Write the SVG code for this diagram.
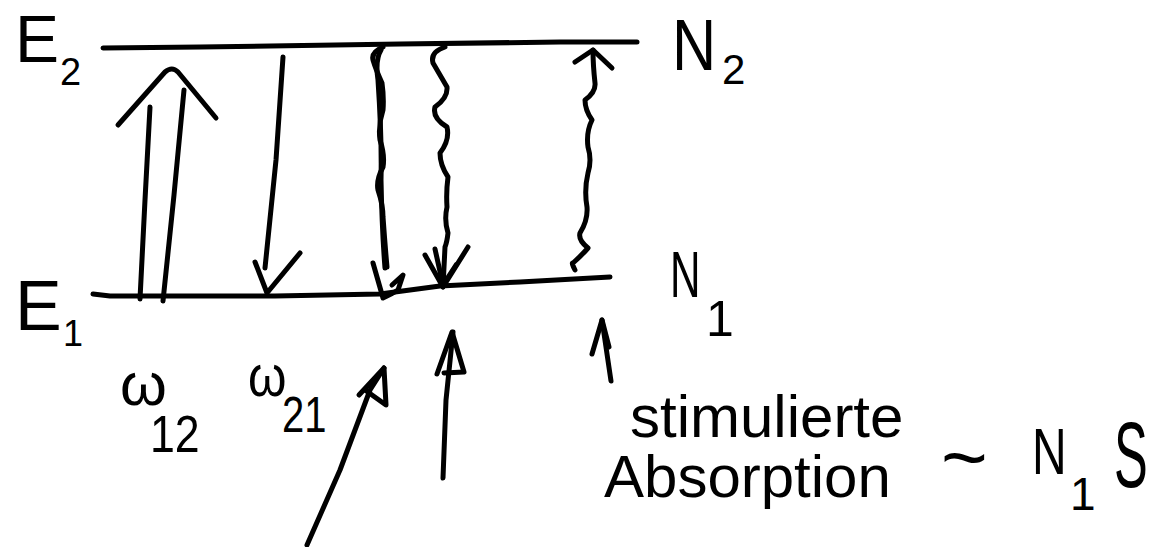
<svg xmlns="http://www.w3.org/2000/svg" width="1155" height="547" viewBox="0 0 1155 547">
<style>
.s{fill:none;stroke:#000;stroke-width:5;stroke-linecap:round;stroke-linejoin:round}
.t{font-family:"Liberation Sans",Arial,sans-serif;fill:#000}
</style>
<rect width="1155" height="547" fill="#fff"/>
<g id="level-E2">
<path class="s" d="M103,48 L200,47 L400,44 L560,42 L637,42"/>
<text class="t" x="15" y="62" font-size="66">E</text>
<text class="t" x="60" y="85" font-size="38">2</text>
<text class="t" transform="translate(672,70) scale(0.85,1)" font-size="72">N</text>
<text class="t" x="722" y="84" font-size="42">2</text>
</g>
<g id="level-E1">
<path class="s" d="M93,294 L110,296 L275,296 L380,294 L440,286 L520,282 L610,277"/>
<text class="t" x="15" y="330" font-size="70">E</text>
<text class="t" x="63" y="346" font-size="36">1</text>
<text class="t" transform="translate(670,297) scale(0.65,1)" font-size="65">N</text>
<text class="t" x="706" y="336" font-size="50">1</text>
</g>
<g id="label-w12">
<text class="t" x="120" y="405" font-size="60">ω</text>
<text class="t" transform="translate(150,452) scale(0.86,1)" font-size="52">12</text>
</g>
<g id="label-w21">
<text class="t" transform="translate(248,396) scale(0.85,1)" font-size="58">ω</text>
<text class="t" transform="translate(282,432) scale(0.8,1)" font-size="50">21</text>
</g>
<g id="label-absorption">
<text class="t" x="630" y="437" font-size="60">stimulierte</text>
<text class="t" x="604" y="497" font-size="60">Absorption</text>
<text class="t" x="941" y="485" font-size="80">~</text>
<text class="t" transform="translate(1032,474) scale(0.75,1)" font-size="64">N</text>
<text class="t" x="1070" y="510" font-size="46">1</text>
<text class="t" transform="translate(1114,487) scale(0.55,1)" font-size="92">S</text>
</g>
<g id="connectors">
<path class="s" d="M140,299 L145,200 L150,107"/>
<path class="s" d="M163,301 L174,195 L184,90"/>
<path class="s" d="M118,125 L165,72 Q172,66 178,72 L216,118"/>
<path class="s" d="M283,57 L276,160 L265,268"/>
<path class="s" d="M255,262 L267,293 L300,253"/>
<path class="s" d="M383,47 Q371,52 373,60 Q376,70 382,83 Q384,97 383,110 Q378,125 380,140 Q385,155 383,167 Q376,180 378,190 Q383,205 383,217 Q385,245 387,267"/>
<path class="s" d="M381,50 Q375,60 378,80 Q382,140 381,180 Q382,230 385,268" stroke-width="3"/>
<path class="s" d="M373,263 L383,298 Q392,294 398,290 L403,275 L392,285"/>
<path class="s" d="M445,47 Q430,52 433,63 Q440,75 447,87 Q448,98 435,107 Q432,118 447,127 Q450,140 440,153 Q440,165 448,177 Q446,192 447,207 Q444,220 448,233 Q447,242 445,247 L443,287"/>
<path class="s" d="M425,255 L443,287 L468,247"/>
<path class="s" d="M435,249 L443,285 L456,265"/>
<path class="s" d="M575,270 Q571,262 573,263 Q582,255 588,248 Q578,240 580,233 Q588,220 587,207 Q584,190 588,173 Q592,160 588,147 Q586,132 592,120 Q585,110 585,100 Q596,92 595,83 Q593,65 593,50"/>
<path class="s" d="M575,62 L593,50 L612,68"/>
<path class="s" d="M307,545 L340,470 L370,390 L384,368"/>
<path class="s" d="M359,395 L384,368 L386,405 L365,390"/>
<path class="s" d="M443,478 L446,400 L453,332"/>
<path class="s" d="M437,374 L452,332 L464,372 L444,373" fill="#000"/>
<path class="s" d="M611,381 L602,320"/>
<path class="s" d="M592,354 L602,320 L609,347"/>
</g>
</svg>
